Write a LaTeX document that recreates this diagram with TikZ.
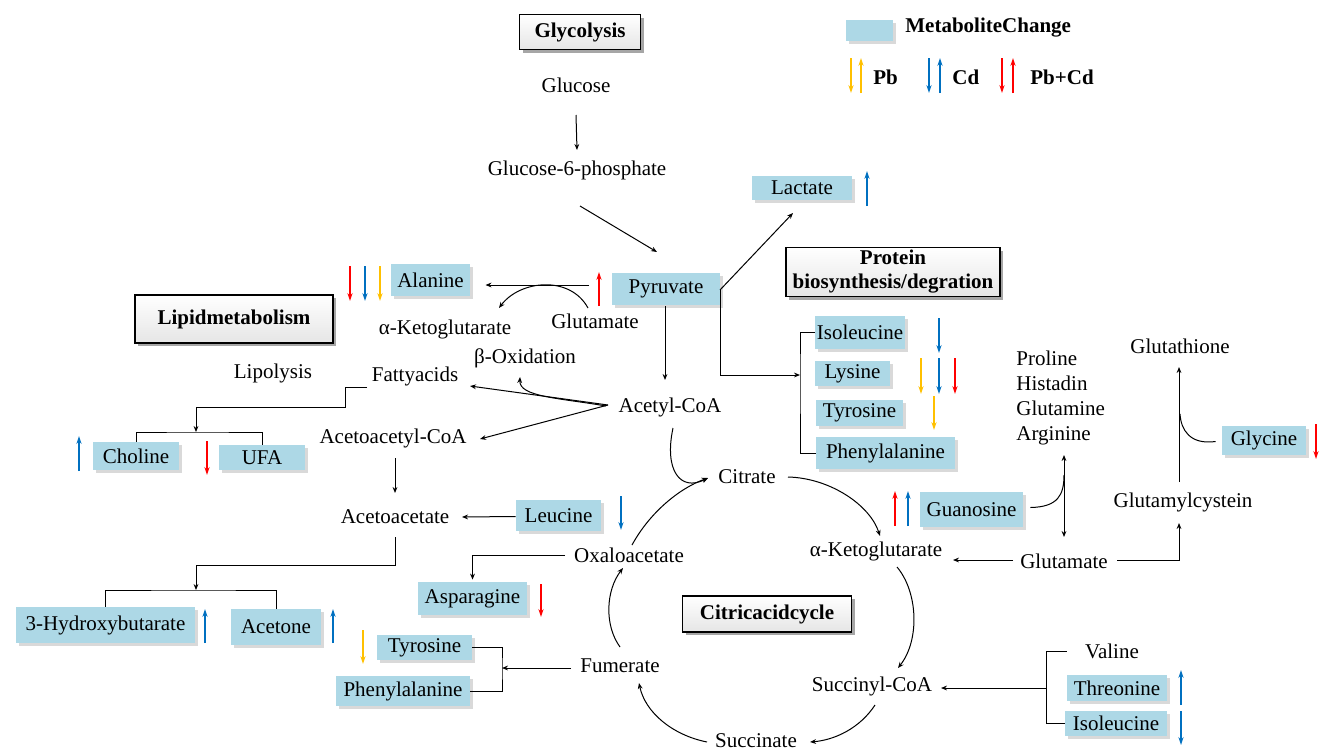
\documentclass[tikz,border=0pt]{standalone}
\usepackage{fontspec}
\setmainfont{Liberation Serif}
\usetikzlibrary{arrows.meta,shadows,calc}
\definecolor{lb}{HTML}{ADD8E6}
\definecolor{cOr}{HTML}{FFC000}
\definecolor{cBl}{HTML}{0070C0}
\definecolor{cRd}{HTML}{FF0000}
\begin{document}
\begin{tikzpicture}[x=0.5pt,y=-0.5pt,
  txt/.style={font=\fontsize{10.5}{12.5}\selectfont, inner sep=1pt},
  bold/.style={font=\fontsize{10.5}{12.5}\selectfont\bfseries, inner sep=1pt},
  mbox/.style={font=\fontsize{10.5}{12.5}\selectfont, fill=lb, inner sep=0pt,
    drop shadow={shadow xshift=1.6pt,shadow yshift=-1.6pt,fill=black!15,opacity=1}},
  tbox/.style={font=\fontsize{10.5}{12}\selectfont\bfseries, draw=black, line width=0.6pt,
    top color=white, bottom color=black!10, align=center, inner sep=0pt,
    drop shadow={shadow xshift=1.6pt,shadow yshift=-1.6pt,fill=black!35,opacity=1}},
  arr/.style={-{Stealth[length=3pt,width=2.4pt]}, line width=0.5pt},
  darr/.style={{Stealth[length=3pt,width=2.4pt]}-{Stealth[length=3pt,width=2.4pt]}, line width=0.5pt},
  ln/.style={line width=0.5pt},
  ca/.style={-{Stealth[length=4pt,width=2.6pt]}, line width=1pt},
]
\useasboundingbox (0,0) rectangle (1323,750);

% ---------- titles ----------
\node[tbox, minimum width=60.5pt, minimum height=17.5pt] (glyc) at (580,32) {Glycolysis};
\node[tbox, minimum width=99pt, minimum height=24pt] (lipid) at (234,319) {Lipidmetabolism};
\node[tbox, minimum width=107pt, minimum height=24.5pt] (prot) at (893,272) {Protein\\biosynthesis/degration};
\node[tbox, minimum width=84.5pt, minimum height=18pt] (tca) at (767,614) {Citricacidcycle};

% ---------- legend ----------
\node[mbox, minimum width=23.5pt, minimum height=10.5pt] (leg) at (869,30) {};
\node[bold, anchor=west] (legt) at (903,28) {MetaboliteChange};
\draw[ca,cOr] (851,58) -- (851,93);
\draw[ca,cOr] (861,93) -- (861,58);
\node[bold, anchor=west] (lpb) at (871,77) {Pb};
\draw[ca,cBl] (929,58) -- (929,93);
\draw[ca,cBl] (940,93) -- (940,58);
\node[bold, anchor=west] (lcd) at (950,77) {Cd};
\draw[ca,cRd] (1002,58) -- (1002,93);
\draw[ca,cRd] (1013,93) -- (1013,58);
\node[bold, anchor=west] (lpbcd) at (1028,77) {Pb+Cd};

% ---------- glycolysis ----------
\node[txt] (glc) at (576,85) {Glucose};
\node[txt] (g6p) at (577,170) {Glucose-6-phosphate};
\node[mbox, minimum width=50pt, minimum height=12pt] (lac) at (802,188) {Lactate};
\node[mbox, minimum width=54pt, minimum height=16pt] (pyr) at (666,289) {Pyruvate};
\node[mbox, minimum width=39.5pt, minimum height=16pt] (ala) at (430.5,280) {Alanine};
\node[txt] (akg1) at (445,329) {α-Ketoglutarate};
\node[txt] (glu1) at (595,321) {Glutamate};
\node[txt] (box) at (525,358) {β-Oxidation};
\node[txt] (acoa) at (670,407) {Acetyl-CoA};

\draw[arr] ($(glc)+(0,30)$) -- ($(g6p)+(0,-20)$);
\draw[arr] ($(g6p)+(3,36)$) -- ($(pyr)+(-9,-37)$);
\draw[arr] ($(pyr)+(54,1)$) -- ($(lac)+(-9,25)$);
\draw[ca,cBl] (867,206) -- (867,171);
\draw[ca,cRd] (599,306) -- (599,272);
\draw[arr] ($(pyr)+(-77,-4)$) -- ($(ala)+(55,5)$);
\draw[arr] ($(glu1)+(-7,-13)$) .. controls (570,275) and (520,280) .. ($(akg1)+(54,-21)$);
\draw[ca,cRd] (350,266) -- (350,301);
\draw[ca,cBl] (365,266) -- (365,301);
\draw[ca,cOr] (380,266) -- (380,301);
\draw[arr] ($(pyr)+(-1,17)$) -- ($(acoa)+(-5,-27)$);

% ---------- lipid ----------
\node[txt] (lipo) at (273,373) {Lipolysis};
\node[txt] (fa) at (415,376) {Fattyacids};
\node[txt] (aac) at (393,438) {Acetoacetyl-CoA};
\node[mbox, minimum width=43pt, minimum height=14pt] (cho) at (136,456) {Choline};
\node[mbox, minimum width=43pt, minimum height=12.5pt] (ufa) at (262,457.5) {UFA};
\node[txt] (acac) at (395,517) {Acetoacetate};
\node[mbox, minimum width=42.5pt, minimum height=15.5pt] (leu) at (558.5,515.5) {Leucine};
\node[mbox, minimum width=89.5pt, minimum height=18pt] (hb) at (105.5,625) {3-Hydroxybutarate};
\node[mbox, minimum width=45pt, minimum height=18pt] (act) at (276,627) {Acetone};

\draw[arr] ($(acoa)+(-62,-2)$) -- ($(fa)+(55,10)$);
\draw[arr] ($(acoa)+(-62,-2)$) -- ($(aac)+(87,1)$);
\draw[arr] ($(acoa)+(-64,-1)$) .. controls (560,398) and (519,397) .. ($(box)+(-5,19)$);
\draw[arr] ($(acoa)+(3,21)$) .. controls (664,470) and (680,492) .. (708,478);

\coordinate (lj) at (196,432);
\draw[arr] ($(fa)+(-48,11)$) -- ++(-22,0) -- ++(0,20) -| (lj);
\draw[ln] (cho.north) |- (lj) -| (ufa.north);
\draw[ca,cBl] (79,471) -- (79,436);
\draw[ca,cRd] (207,441) -- (207,475);

\draw[arr] ($(aac)+(2,20)$) -- ($(acac)+(0,-24)$);
\draw[arr] ($(leu.west)+(0,1)$) -- ($(acac)+(67,0)$);
\draw[ca,cBl] (621,496) -- (621,530);

\coordinate (kj) at (196,590);
\draw[arr] ($(acac)+(0,20)$) -- ++(0,28) -| (kj);
\draw[ln] (hb.north) |- (kj) -| (act.north);
\draw[ca,cBl] (205,643) -- (205,609);
\draw[ca,cBl] (333,643) -- (333,609);

% ---------- protein ----------
\node[mbox, minimum width=45pt, minimum height=16.5pt] (iso1) at (860,332.5) {Isoleucine};
\node[mbox, minimum width=37.5pt, minimum height=12.5pt] (lys) at (852.5,373.5) {Lysine};
\node[mbox, minimum width=43.5pt, minimum height=13pt] (tyr1) at (859.5,413) {Tyrosine};
\node[mbox, minimum width=69.5pt, minimum height=16pt] (phe1) at (885.5,453) {Phenylalanine};
\coordinate (pb) at (800,375);
\draw[arr] ($(pyr)+(54,1)$) |- (pb);
\draw[ln] (iso1.west) -| (pb) |- (phe1.west);
\draw[ca,cBl] (939,318) -- (939,353);
\draw[ca,cOr] (921,358) -- (921,394);
\draw[ca,cBl] (939,358) -- (939,394);
\draw[ca,cRd] (955,358) -- (955,394);
\draw[ca,cOr] (934,396) -- (934,430);

% ---------- citric acid cycle ----------
\node[txt] (cit) at (747,477) {Citrate};
\node[txt] (akg2) at (876,551) {α-Ketoglutarate};
\node[txt] (suc) at (872,686) {Succinyl-CoA};
\node[txt] (succ) at (756,741) {Succinate};
\node[txt] (fum) at (620,666) {Fumerate};
\node[txt] (oaa) at (629,555) {Oxaloacetate};

\draw[arr] ($(cit)+(41,0)$) .. controls (830,478) and (870,505) .. ($(akg2)+(4,-15)$);
\draw[arr] ($(akg2)+(21,16)$) .. controls (918,592) and (920,640) .. ($(suc)+(26,-18)$);
\draw[arr] ($(suc)+(3,19)$) .. controls (860,728) and (835,740) .. ($(succ)+(54,1)$);
\draw[arr] ($(succ)+(-49,1)$) .. controls (672,735) and (645,712) .. ($(fum)+(19,17)$);
\draw[arr] ($(fum)+(0,-19)$) .. controls (604,625) and (606,590) .. ($(oaa)+(-6,13)$);
\draw[arr] ($(oaa)+(3,-10)$) .. controls (650,512) and (680,488) .. ($(cit)+(-39,1)$);

\node[mbox, minimum width=54.5pt, minimum height=16.5pt] (asp) at (472.5,598.5) {Asparagine};
\draw[arr] ($(oaa)+(-64,0)$) -| ($(asp.north)+(0,-2)$);
\draw[ca,cRd] (541,584) -- (541,617);

\node[mbox, minimum width=47.5pt, minimum height=12.5pt] (tyr2) at (424.5,647.5) {Tyrosine};
\node[mbox, minimum width=67pt, minimum height=15pt] (phe2) at (403,691) {Phenylalanine};
\coordinate (fj) at (502,668);
\draw[arr] ($(fum)+(-49,2)$) -- (fj);
\draw[ln] (tyr2.east) -| (fj) |- (phe2.east);
\draw[ca,cOr] (363,630) -- (363,664);

% ---------- right side ----------
\node[mbox, minimum width=51.5pt, minimum height=17.5pt] (guan) at (971.5,509.5) {Guanosine};
\draw[ca,cRd] (895,526) -- (895,491);
\draw[ca,cBl] (908,526) -- (908,491);
\node[txt, align=left, anchor=west] (aa4) at (1014,398) {Proline\\Histadin\\Glutamine\\Arginine};
\node[txt] (glu2) at (1064,561) {Glutamate};
\draw[darr] ($(glu2)+(0,-106)$) -- ($(glu2)+(0,-24)$);
\draw[ln] ($(guan.east)+(7,-2)$) .. controls (1058,507) and (1064,495) .. ($(glu2)+(0,-86)$);
\draw[arr] ($(glu2)+(-51,-1)$) -- ($(akg2)+(77,9)$);

\node[txt] (gcys) at (1183,502) {Glutamylcystein};
\node[txt] (gth) at (1180,346) {Glutathione};
\draw[arr] ($(glu2)+(53,-1)$) -| ($(gcys)+(-4,21)$);
\draw[arr] ($(gcys)+(-4,-20)$) -- ($(gth)+(-1,21)$);
\node[mbox, minimum width=42pt, minimum height=14.5pt] (gly) at (1264,440.5) {Glycine};
\draw[ln] ($(gly.west)+(-6,1)$) .. controls (1190,445) and (1181,430) .. ($(gcys)+(-3,-88)$);
\draw[ca,cRd] (1316,424) -- (1316,459);

\node[txt] (val) at (1112,651) {Valine};
\node[mbox, minimum width=50pt, minimum height=13pt] (thr) at (1117,688) {Threonine};
\node[mbox, minimum width=51pt, minimum height=12.5pt] (iso2) at (1116,723.5) {Isoleucine};
\coordinate (sj) at (1046,688);
\draw[arr] (sj) -- ($(suc)+(69,2)$);
\draw[ln] ($(val.west)+(-16,0)$) -| (sj) |- (iso2.west);
\draw[ca,cBl] (1181,705) -- (1181,670);
\draw[ca,cBl] (1181,711) -- (1181,745);
\end{tikzpicture}
\end{document}
